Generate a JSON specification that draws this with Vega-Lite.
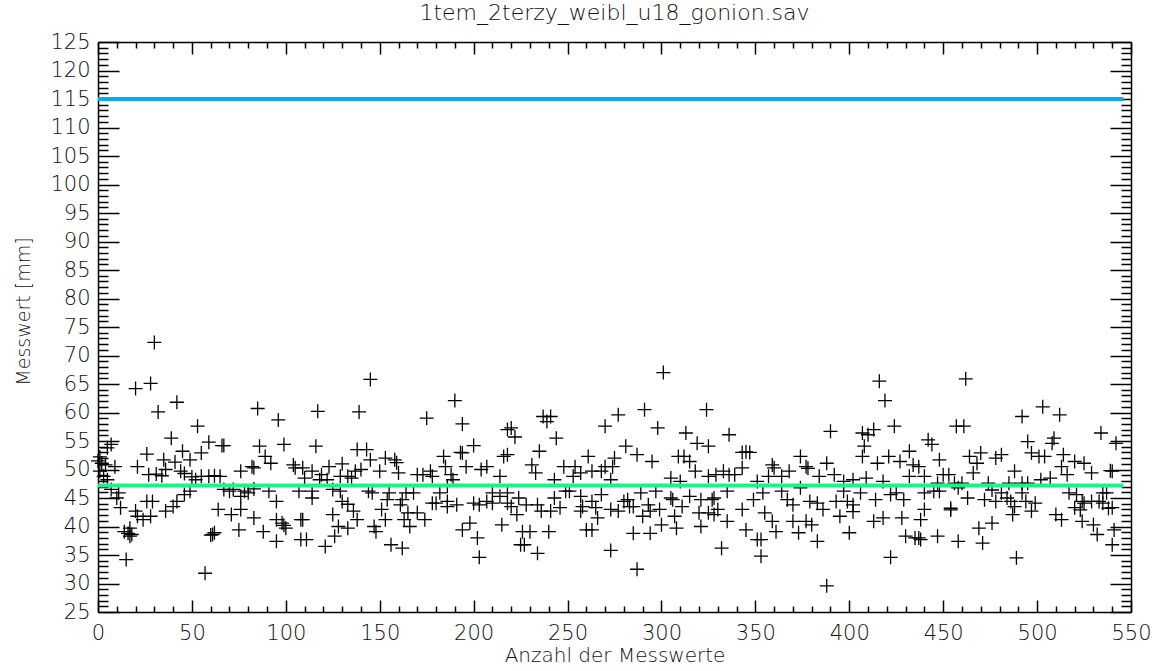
{
"$schema": "https://vega.github.io/schema/vega-lite/v6.json",
"width": 1033, "height": 570,
"autosize": {"type": "none"},
"padding": {"left": 98, "top": 42, "right": 29, "bottom": 59},
"background": "white",
"title": {"text": "1tem_2terzy_weibl_u18_gonion.sav", "font": "DejaVu Sans", "fontSize": 22, "fontWeight": 200, "color": "#111", "anchor": "middle", "offset": 6},
"config": {"view": {"stroke": null}, "axis": {"grid": false, "domainColor": "#000", "tickColor": "#000", "labelFont": "DejaVu Sans", "titleFont": "DejaVu Sans", "labelColor": "#111", "titleColor": "#111", "titleFontWeight": 200, "labelFontWeight": 200}},
"datasets": {
"blue": [{"n": 0, "mm": 115}, {"n": 546, "mm": 115}],
"green": [{"n": 0, "mm": 47.2}, {"n": 546, "mm": 47.2}],
"pts": [
{"n":30,"mm":72.3},{"n":20,"mm":64.2},{"n":28,"mm":65.1},{"n":32,"mm":60.1},{"n":42,"mm":61.8},{"n":53,"mm":57.6},{"n":39,"mm":55.5},{"n":85,"mm":60.7},{"n":96,"mm":58.7},{"n":59,"mm":54.8},
{"n":67,"mm":54.2},{"n":66,"mm":54.2},{"n":86,"mm":54.1},{"n":99,"mm":54.4},{"n":7,"mm":54.4},{"n":5,"mm":53.8},{"n":26,"mm":52.7},{"n":45,"mm":53.2},{"n":55,"mm":52.9},{"n":89,"mm":52.3},
{"n":92,"mm":51.1},{"n":2,"mm":51.1},{"n":4,"mm":50.8},{"n":9,"mm":50.5},{"n":21,"mm":50.5},{"n":35,"mm":51.7},{"n":41,"mm":51.3},{"n":49,"mm":51.7},{"n":82,"mm":50.5},{"n":83,"mm":50.3},
{"n":104,"mm":50.8},{"n":105,"mm":50.3},{"n":76,"mm":49.7},{"n":27,"mm":49.1},{"n":31,"mm":49.2},{"n":34,"mm":48.9},{"n":36,"mm":50.0},{"n":44,"mm":49.7},{"n":46,"mm":49.3},{"n":50,"mm":48.7},
{"n":52,"mm":48.2},{"n":55,"mm":48.8},{"n":59,"mm":48.8},{"n":62,"mm":48.9},{"n":65,"mm":48.8},{"n":1,"mm":49.7},{"n":3,"mm":48.8},{"n":5,"mm":48.2},{"n":7,"mm":46.5},{"n":11,"mm":45.9},
{"n":10,"mm":45.0},{"n":12,"mm":43.3},{"n":20,"mm":42.7},{"n":26,"mm":44.4},{"n":29,"mm":44.4},{"n":21,"mm":41.8},{"n":24,"mm":41.2},{"n":28,"mm":41.8},{"n":36,"mm":42.7},{"n":40,"mm":43.5},
{"n":42,"mm":44.4},{"n":46,"mm":45.6},{"n":49,"mm":46.2},{"n":14,"mm":39.1},{"n":18,"mm":38.6},{"n":17,"mm":39.7},{"n":15,"mm":34.2},{"n":57,"mm":31.8},{"n":61,"mm":38.6},{"n":62,"mm":38.9},
{"n":64,"mm":43.0},{"n":71,"mm":42.1},{"n":76,"mm":43.0},{"n":75,"mm":39.4},{"n":67,"mm":46.5},{"n":70,"mm":46.2},{"n":72,"mm":46.5},{"n":78,"mm":46.2},{"n":80,"mm":45.9},{"n":83,"mm":46.6},
{"n":76,"mm":45.3},{"n":91,"mm":46.2},{"n":95,"mm":44.4},{"n":83,"mm":41.5},{"n":88,"mm":39.1},{"n":95,"mm":37.4},{"n":95,"mm":41.2},{"n":98,"mm":40.6},{"n":100,"mm":39.7},{"n":99,"mm":40.2},
{"n":108,"mm":41.2},{"n":108,"mm":37.7},{"n":107,"mm":46.2},{"n":0,"mm":51.5},{"n":1,"mm":52.2},{"n":17,"mm":38.3},{"n":16,"mm":38.8},{"n":60,"mm":38.5},
{"n":145,"mm":65.8},{"n":117,"mm":60.2},{"n":139,"mm":60.1},{"n":116,"mm":54.1},{"n":190,"mm":62.1},{"n":194,"mm":58.0},{"n":175,"mm":59.0},{"n":218,"mm":57.0},{"n":138,"mm":53.5},{"n":143,"mm":53.5},
{"n":145,"mm":51.7},{"n":130,"mm":51.0},{"n":123,"mm":50.5},{"n":153,"mm":52.0},{"n":158,"mm":51.7},{"n":159,"mm":51.2},{"n":150,"mm":49.7},{"n":160,"mm":49.4},{"n":109,"mm":50.3},{"n":114,"mm":49.7},
{"n":119,"mm":49.1},{"n":110,"mm":48.5},{"n":118,"mm":48.2},{"n":122,"mm":48.2},{"n":135,"mm":48.5},{"n":137,"mm":49.7},{"n":140,"mm":50.0},{"n":133,"mm":48.8},{"n":129,"mm":48.8},{"n":114,"mm":46.2},
{"n":114,"mm":45.0},{"n":129,"mm":46.2},{"n":125,"mm":46.5},{"n":144,"mm":46.2},{"n":146,"mm":45.9},{"n":130,"mm":44.4},{"n":133,"mm":43.9},{"n":136,"mm":42.7},{"n":138,"mm":41.2},{"n":133,"mm":39.7},
{"n":128,"mm":40.0},{"n":125,"mm":42.1},{"n":126,"mm":38.3},{"n":121,"mm":36.5},{"n":111,"mm":37.7},{"n":109,"mm":41.2},{"n":147,"mm":40.0},{"n":148,"mm":39.1},{"n":151,"mm":43.0},{"n":153,"mm":41.2},
{"n":154,"mm":44.7},{"n":156,"mm":36.8},{"n":162,"mm":36.2},{"n":161,"mm":43.8},{"n":164,"mm":45.9},{"n":168,"mm":45.9},{"n":162,"mm":44.7},{"n":165,"mm":42.4},{"n":163,"mm":41.2},{"n":166,"mm":40.0},
{"n":170,"mm":42.4},{"n":174,"mm":41.2},{"n":155,"mm":45.9},{"n":170,"mm":49.1},{"n":173,"mm":49.1},{"n":177,"mm":49.7},{"n":178,"mm":48.8},{"n":184,"mm":52.3},{"n":185,"mm":50.5},{"n":188,"mm":49.1},
{"n":189,"mm":48.2},{"n":194,"mm":52.9},{"n":200,"mm":54.2},{"n":193,"mm":53.0},{"n":196,"mm":50.5},{"n":204,"mm":50.0},{"n":207,"mm":50.5},{"n":214,"mm":48.8},{"n":216,"mm":52.3},{"n":182,"mm":45.9},
{"n":178,"mm":44.1},{"n":180,"mm":44.1},{"n":186,"mm":44.4},{"n":186,"mm":43.5},{"n":191,"mm":43.8},{"n":200,"mm":44.1},{"n":203,"mm":43.8},{"n":207,"mm":44.4},{"n":210,"mm":44.1},{"n":210,"mm":45.9},
{"n":214,"mm":45.3},{"n":218,"mm":44.1},{"n":215,"mm":40.3},{"n":198,"mm":40.6},{"n":194,"mm":39.4},{"n":202,"mm":38.0},{"n":203,"mm":34.6},{"n":186,"mm":47.1},
{"n":301,"mm":67.0},{"n":237,"mm":59.3},{"n":241,"mm":59.3},{"n":239,"mm":58.4},{"n":220,"mm":57.3},{"n":222,"mm":55.7},{"n":244,"mm":55.5},{"n":270,"mm":57.6},{"n":277,"mm":59.6},{"n":291,"mm":60.5},
{"n":298,"mm":57.3},{"n":324,"mm":60.5},{"n":313,"mm":56.4},{"n":319,"mm":54.6},{"n":325,"mm":54.1},{"n":281,"mm":54.1},{"n":287,"mm":52.6},{"n":295,"mm":51.4},{"n":235,"mm":53.2},{"n":218,"mm":52.6},
{"n":231,"mm":50.8},{"n":233,"mm":49.4},{"n":248,"mm":50.5},{"n":254,"mm":50.5},{"n":261,"mm":52.3},{"n":270,"mm":50.5},{"n":275,"mm":52.0},{"n":274,"mm":50.5},{"n":257,"mm":49.4},{"n":263,"mm":49.7},
{"n":268,"mm":49.7},{"n":243,"mm":48.2},{"n":253,"mm":48.8},{"n":273,"mm":48.2},{"n":312,"mm":52.3},{"n":315,"mm":51.4},{"n":309,"mm":52.3},{"n":318,"mm":49.7},{"n":325,"mm":48.8},{"n":305,"mm":48.5},
{"n":310,"mm":47.9},{"n":218,"mm":45.9},{"n":224,"mm":45.0},{"n":220,"mm":43.5},{"n":223,"mm":42.1},{"n":228,"mm":43.8},{"n":234,"mm":43.8},{"n":236,"mm":42.7},{"n":241,"mm":42.7},{"n":246,"mm":43.3},
{"n":243,"mm":45.0},{"n":249,"mm":46.2},{"n":251,"mm":46.2},{"n":257,"mm":45.3},{"n":258,"mm":43.5},{"n":257,"mm":42.7},{"n":263,"mm":44.4},{"n":268,"mm":45.6},{"n":265,"mm":43.3},{"n":266,"mm":41.5},
{"n":273,"mm":43.0},{"n":277,"mm":42.7},{"n":280,"mm":44.4},{"n":282,"mm":44.7},{"n":283,"mm":43.5},{"n":285,"mm":43.5},{"n":289,"mm":45.9},{"n":293,"mm":43.8},{"n":290,"mm":41.8},{"n":294,"mm":42.7},
{"n":297,"mm":46.2},{"n":299,"mm":43.0},{"n":305,"mm":45.0},{"n":306,"mm":44.7},{"n":307,"mm":41.8},{"n":311,"mm":43.5},{"n":315,"mm":45.3},{"n":321,"mm":44.7},{"n":327,"mm":44.7},{"n":320,"mm":42.4},
{"n":321,"mm":40.0},{"n":325,"mm":42.4},{"n":300,"mm":40.3},{"n":308,"mm":39.7},{"n":285,"mm":38.8},{"n":294,"mm":38.8},{"n":260,"mm":39.4},{"n":263,"mm":39.4},{"n":240,"mm":39.1},{"n":226,"mm":39.1},
{"n":230,"mm":39.1},{"n":225,"mm":36.8},{"n":227,"mm":36.8},{"n":234,"mm":35.3},{"n":273,"mm":35.8},{"n":287,"mm":32.5},
{"n":416,"mm":65.5},{"n":419,"mm":62.1},{"n":424,"mm":57.6},{"n":390,"mm":56.7},{"n":407,"mm":56.4},{"n":413,"mm":57.0},{"n":410,"mm":56.1},{"n":336,"mm":56.1},{"n":343,"mm":53.0},{"n":345,"mm":53.1},
{"n":347,"mm":53.0},{"n":374,"mm":52.3},{"n":377,"mm":50.5},{"n":378,"mm":50.2},{"n":388,"mm":51.1},{"n":359,"mm":50.8},{"n":360,"mm":50.3},{"n":368,"mm":49.7},{"n":407,"mm":52.3},{"n":408,"mm":54.1},
{"n":421,"mm":52.3},{"n":427,"mm":51.4},{"n":432,"mm":53.2},{"n":434,"mm":50.8},{"n":415,"mm":51.1},{"n":329,"mm":49.1},{"n":333,"mm":49.7},{"n":336,"mm":49.1},{"n":339,"mm":49.1},{"n":343,"mm":50.3},
{"n":351,"mm":47.9},{"n":357,"mm":48.8},{"n":364,"mm":48.8},{"n":384,"mm":48.8},{"n":392,"mm":49.1},{"n":397,"mm":47.9},{"n":402,"mm":48.2},{"n":409,"mm":48.5},{"n":418,"mm":47.9},{"n":432,"mm":48.8},
{"n":335,"mm":46.2},{"n":328,"mm":45.0},{"n":330,"mm":43.0},{"n":328,"mm":42.1},{"n":335,"mm":40.9},{"n":343,"mm":43.0},{"n":345,"mm":39.4},{"n":349,"mm":44.7},{"n":351,"mm":37.7},{"n":353,"mm":37.7},
{"n":353,"mm":34.8},{"n":354,"mm":45.9},{"n":355,"mm":42.4},{"n":359,"mm":40.9},{"n":361,"mm":39.1},{"n":364,"mm":46.2},{"n":367,"mm":44.7},{"n":370,"mm":43.8},{"n":370,"mm":40.9},{"n":373,"mm":38.9},
{"n":377,"mm":40.9},{"n":380,"mm":40.3},{"n":379,"mm":44.4},{"n":383,"mm":44.1},{"n":386,"mm":43.0},{"n":383,"mm":37.4},{"n":374,"mm":46.8},{"n":393,"mm":44.4},{"n":395,"mm":41.8},{"n":397,"mm":46.2},
{"n":399,"mm":44.4},{"n":402,"mm":43.8},{"n":402,"mm":42.6},{"n":406,"mm":45.9},{"n":400,"mm":38.9},{"n":413,"mm":40.9},{"n":418,"mm":41.5},{"n":414,"mm":44.7},{"n":422,"mm":45.6},{"n":425,"mm":45.9},
{"n":429,"mm":44.7},{"n":428,"mm":41.5},{"n":430,"mm":38.3},{"n":435,"mm":38.0},{"n":422,"mm":34.6},{"n":332,"mm":36.2},{"n":388,"mm":29.6},
{"n":462,"mm":65.9},{"n":457,"mm":57.6},{"n":461,"mm":57.6},{"n":492,"mm":59.3},{"n":503,"mm":61.0},{"n":512,"mm":59.6},{"n":534,"mm":56.4},{"n":542,"mm":54.6},{"n":495,"mm":54.9},{"n":509,"mm":55.5},
{"n":508,"mm":54.6},{"n":442,"mm":55.2},{"n":444,"mm":54.4},{"n":448,"mm":51.7},{"n":464,"mm":52.3},{"n":470,"mm":52.9},{"n":468,"mm":51.1},{"n":478,"mm":52.0},{"n":481,"mm":52.6},{"n":497,"mm":52.9},
{"n":501,"mm":52.3},{"n":504,"mm":52.3},{"n":514,"mm":52.6},{"n":520,"mm":51.4},{"n":525,"mm":51.1},{"n":437,"mm":50.5},{"n":513,"mm":50.5},{"n":529,"mm":49.4},{"n":540,"mm":49.7},{"n":488,"mm":49.7},
{"n":440,"mm":48.8},{"n":450,"mm":49.1},{"n":453,"mm":49.1},{"n":466,"mm":49.4},{"n":507,"mm":48.5},{"n":516,"mm":49.1},{"n":447,"mm":47.6},{"n":456,"mm":47.6},{"n":460,"mm":47.6},{"n":474,"mm":47.6},
{"n":485,"mm":47.6},{"n":492,"mm":47.6},{"n":495,"mm":47.6},{"n":502,"mm":48.2},{"n":440,"mm":45.9},{"n":445,"mm":46.2},{"n":448,"mm":46.2},{"n":458,"mm":46.8},{"n":463,"mm":45.0},{"n":472,"mm":44.7},
{"n":476,"mm":46.4},{"n":481,"mm":45.9},{"n":484,"mm":45.0},{"n":486,"mm":44.4},{"n":478,"mm":44.4},{"n":488,"mm":43.5},{"n":487,"mm":42.1},{"n":492,"mm":45.9},{"n":494,"mm":44.4},{"n":497,"mm":42.7},
{"n":499,"mm":44.1},{"n":517,"mm":45.9},{"n":521,"mm":45.6},{"n":524,"mm":44.4},{"n":520,"mm":43.3},{"n":523,"mm":42.9},{"n":525,"mm":44.1},{"n":529,"mm":44.4},{"n":533,"mm":44.4},{"n":535,"mm":44.1},
{"n":537,"mm":45.9},{"n":540,"mm":43.3},{"n":440,"mm":43.0},{"n":454,"mm":43.2},{"n":454,"mm":42.9},{"n":438,"mm":41.2},{"n":437,"mm":38.0},{"n":438,"mm":37.7},{"n":447,"mm":38.3},{"n":458,"mm":37.4},
{"n":469,"mm":39.7},{"n":476,"mm":40.6},{"n":471,"mm":37.1},{"n":489,"mm":34.5},{"n":510,"mm":42.1},{"n":513,"mm":41.2},{"n":524,"mm":40.9},{"n":530,"mm":40.3},{"n":532,"mm":38.6},{"n":541,"mm":39.4},
{"n":540,"mm":36.8},{"n":539,"mm":49.8},{"n":535,"mm":45.9},{"n":538,"mm":43.2}
]
},
"layer": [
{
"data": {"name": "pts"},
"mark": {"type": "point", "shape": "M-1,0L1,0M0,-1L0,1", "filled": false, "stroke": "#000", "strokeWidth": 1.3, "size": 196, "opacity": 1},
"encoding": {
"x": {"field": "n", "type": "quantitative", "scale": {"domain": [0, 550], "nice": false, "zero": false},
 "axis": {"orient": "bottom", "values": [0,50,100,150,200,250,300,350,400,450,500,550], "ticks": false, "labelFontSize": 21, "labelPadding": 10, "labelFlush": false, "domain": true, "domainWidth": 1.5, "title": "Anzahl der Messwerte", "titleFontSize": 20, "titlePadding": 2}},
"y": {"field": "mm", "type": "quantitative", "scale": {"domain": [25, 125], "nice": false, "zero": false},
 "axis": {"orient": "left", "values": [25,30,35,40,45,50,55,60,65,70,75,80,85,90,95,100,105,110,115,120,125], "ticks": false, "labelFontSize": 21, "labelPadding": 8, "labelFlush": false, "domain": true, "domainWidth": 1.5, "title": "Messwert [mm]", "titleFontSize": 19, "titlePadding": 16, "titleY": 269}}
}
},
{
"data": {"name": "blue"},
"mark": {"type": "line", "stroke": "#00AEEF", "strokeWidth": 4},
"encoding": {
"x": {"field": "n", "type": "quantitative", "scale": {"domain": [0, 550], "nice": false, "zero": false},
 "axis": {"orient": "bottom", "values": [0,50,100,150,200,250,300,350,400,450,500,550], "tickSize": -12, "tickWidth": 1.5, "labels": false, "domain": false, "title": null}},
"y": {"field": "mm", "type": "quantitative", "scale": {"domain": [25, 125], "nice": false, "zero": false},
 "axis": {"orient": "left", "values": [25,30,35,40,45,50,55,60,65,70,75,80,85,90,95,100,105,110,115,120,125], "tickSize": -21, "tickWidth": 1.5, "labels": false, "domain": false, "title": null}}
}
},
{
"data": {"name": "green"},
"mark": {"type": "line", "stroke": "#1EF08C", "strokeWidth": 4},
"encoding": {
"x": {"field": "n", "type": "quantitative", "scale": {"domain": [0, 550], "nice": false, "zero": false},
 "axis": {"orient": "bottom", "values": [10,20,30,40,60,70,80,90,110,120,130,140,160,170,180,190,210,220,230,240,260,270,280,290,310,320,330,340,360,370,380,390,410,420,430,440,460,470,480,490,510,520,530,540], "tickSize": -6, "tickWidth": 1.5, "labels": false, "domain": false, "title": null}},
"y": {"field": "mm", "type": "quantitative", "scale": {"domain": [25, 125], "nice": false, "zero": false},
 "axis": {"orient": "left", "values": [26,27,28,29,31,32,33,34,36,37,38,39,41,42,43,44,46,47,48,49,51,52,53,54,56,57,58,59,61,62,63,64,66,67,68,69,71,72,73,74,76,77,78,79,81,82,83,84,86,87,88,89,91,92,93,94,96,97,98,99,101,102,103,104,106,107,108,109,111,112,113,114,116,117,118,119,121,122,123,124], "tickSize": -10, "tickWidth": 1.5, "labels": false, "domain": false, "title": null}}
}
},
{
"data": {"name": "blue"},
"mark": {"type": "line", "opacity": 0},
"encoding": {
"x": {"field": "n", "type": "quantitative", "scale": {"domain": [0, 550], "nice": false, "zero": false},
 "axis": {"orient": "top", "values": [0,50,100,150,200,250,300,350,400,450,500,550], "tickSize": -12, "tickWidth": 1.5, "labels": false, "domain": true, "domainWidth": 1.5, "title": null}},
"y": {"field": "mm", "type": "quantitative", "scale": {"domain": [25, 125], "nice": false, "zero": false},
 "axis": {"orient": "right", "values": [25,30,35,40,45,50,55,60,65,70,75,80,85,90,95,100,105,110,115,120,125], "tickSize": -21, "tickWidth": 1.5, "labels": false, "domain": true, "domainWidth": 1.5, "title": null}}
}
},
{
"data": {"name": "green"},
"mark": {"type": "line", "opacity": 0},
"encoding": {
"x": {"field": "n", "type": "quantitative", "scale": {"domain": [0, 550], "nice": false, "zero": false},
 "axis": {"orient": "top", "values": [10,20,30,40,60,70,80,90,110,120,130,140,160,170,180,190,210,220,230,240,260,270,280,290,310,320,330,340,360,370,380,390,410,420,430,440,460,470,480,490,510,520,530,540], "tickSize": -6, "tickWidth": 1.5, "labels": false, "domain": false, "title": null}},
"y": {"field": "mm", "type": "quantitative", "scale": {"domain": [25, 125], "nice": false, "zero": false},
 "axis": {"orient": "right", "values": [26,27,28,29,31,32,33,34,36,37,38,39,41,42,43,44,46,47,48,49,51,52,53,54,56,57,58,59,61,62,63,64,66,67,68,69,71,72,73,74,76,77,78,79,81,82,83,84,86,87,88,89,91,92,93,94,96,97,98,99,101,102,103,104,106,107,108,109,111,112,113,114,116,117,118,119,121,122,123,124], "tickSize": -10, "tickWidth": 1.5, "labels": false, "domain": false, "title": null}}
}
}
],
"resolve": {"axis": {"x": "independent", "y": "independent"}}
}
